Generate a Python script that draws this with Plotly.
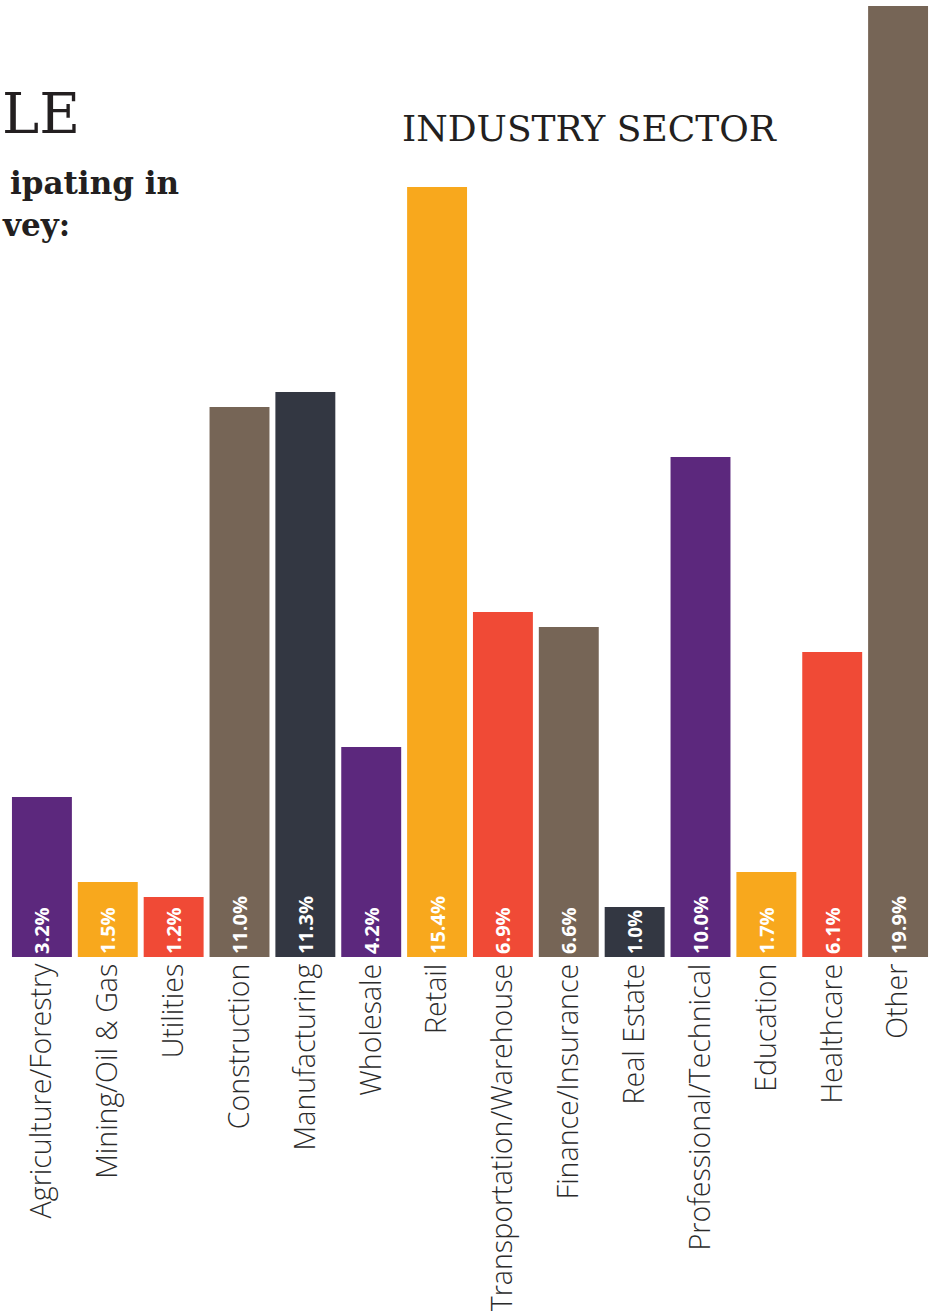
import plotly.graph_objects as go

categories = ["Agriculture/Forestry", "Mining/Oil & Gas", "Utilities", "Construction",
              "Manufacturing", "Wholesale", "Retail", "Transportation/Warehouse",
              "Finance/Insurance", "Real Estate", "Professional/Technical", "Education",
              "Healthcare", "Other"]
values = [3.2, 1.5, 1.2, 11.0, 11.3, 4.2, 15.4, 6.9, 6.6, 1.0, 10.0, 1.7, 6.1, 19.9]
labels = [f"{v:.1f}%" for v in values]
palette = ["#5C287D", "#F8A81D", "#F04A36", "#766556", "#333742"]
colors = [palette[i % 5] for i in range(len(categories))]

W, H = 931, 1315
L, R, T, B = 9, 0, 6, 358
pw, ph = W - L - R, H - T - B

def px_x(p):
    return (p - L) / pw

def px_y(p):
    return (H - B - p) / ph

fig = go.Figure(go.Bar(
    x=categories, y=values, marker_color=colors, marker_line_width=0,
    text=labels, textposition="inside", insidetextanchor="start", textangle=-90,
    insidetextfont=dict(family="Open Sans", size=20, color="white", weight=700),
    hoverinfo="skip",
))

fig.update_layout(
    width=W, height=H, margin=dict(l=L, r=R, t=T, b=B),
    paper_bgcolor="white", plot_bgcolor="white", bargap=0.09, showlegend=False,
    xaxis=dict(range=[-0.5, 13.5], tickangle=-90, showgrid=False, zeroline=False,
               showline=False, ticks="", ticklabelstandoff=0,
               tickfont=dict(family="Open Sans", size=28.6, color="#2b2b2b", weight=300)),
    yaxis=dict(range=[0, ph / 50.0], visible=False, showgrid=False, zeroline=False),
    annotations=[
        dict(text="LE", x=px_x(0), y=px_y(114), xref="paper", yref="paper",
             xanchor="left", yanchor="middle", showarrow=False,
             font=dict(family="DejaVu Serif", size=56, color="#231f20")),
        dict(text="ipating in", x=px_x(181), y=px_y(183), xref="paper", yref="paper",
             xanchor="right", yanchor="middle", showarrow=False,
             font=dict(family="DejaVu Serif", size=31, color="#231f20", weight=700)),
        dict(text="vey:", x=px_x(0), y=px_y(225), xref="paper", yref="paper",
             xanchor="left", yanchor="middle", showarrow=False,
             font=dict(family="DejaVu Serif", size=31, color="#231f20", weight=700)),
        dict(text="INDUSTRY SECTOR", x=px_x(589.5), y=px_y(129), xref="paper", yref="paper",
             xanchor="center", yanchor="middle", showarrow=False,
             font=dict(family="DejaVu Serif", size=36, color="#231f20")),
    ],
)

fig.write_html("out.html")
